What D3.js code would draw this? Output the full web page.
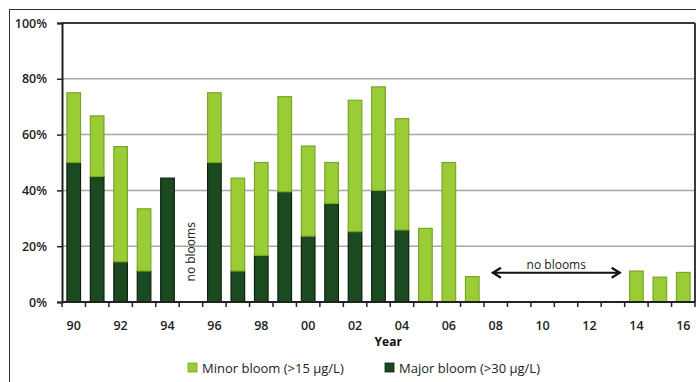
<!DOCTYPE html>
<html><head><meta charset="utf-8">
<script src="https://cdn.jsdelivr.net/npm/d3@7"></script>
<style>body{margin:0;background:#fff}svg{display:block;font-family:"Open Sans",sans-serif}</style>
</head><body><svg id="c" width="696" height="382"></svg>
<script>
const years = ["90","91","92","93","94","95","96","97","98","99","00","01","02","03","04","05","06","07","08","09","10","11","12","13","14","15","16"];
const major = [50,45,14.4,11.1,44.4,0,50,11.1,16.7,39.5,23.6,35.3,25.2,40,25.8,0,0,0,0,0,0,0,0,0,0,0,0];
const minor = [25,21.7,41.3,22.3,0,0,25,33.3,33.3,34.1,32.3,14.7,47.1,37.1,39.9,26.4,50,9.1,0,0,0,0,0,0,11.1,8.9,10.6];
const yTicks = [0,20,40,60,80,100];
const xLabels = ["90","92","94","96","98","00","02","04","06","08","10","12","14","16"];
const seriesNames = ["Minor bloom (>15 µg/L)","Major bloom (>30 µg/L)"];

const svg = d3.select("#c");
const L=62,R=695,T=23,B=302;
const x = d3.scaleBand().domain(years).range([L,R]).paddingInner(0.42).paddingOuter(0.21);
const y = d3.scaleLinear().domain([0,100]).range([B,T]);
const cLight="#9acc36", cLightS="#7aa52a", cDark="#1c4a20", cDarkS="#0d200e";

// outer frame
svg.append("rect").attr("x",9.5).attr("y",9.5).attr("width",700).attr("height",400).attr("fill","none").attr("stroke","#333").attr("stroke-width",1);

// gridlines
svg.append("g").selectAll("line").data(yTicks.filter(d=>d>0&&d<100)).join("line")
 .attr("x1",L).attr("x2",R).attr("y1",d=>y(d)).attr("y2",d=>y(d)).attr("stroke","#a8a8a8").attr("stroke-width",1.5);
// top & right border
svg.append("line").attr("x1",L).attr("x2",R).attr("y1",y(100)).attr("y2",y(100)).attr("stroke","#3a3a3a").attr("stroke-width",2);
svg.append("line").attr("x1",R).attr("x2",R).attr("y1",T).attr("y2",B).attr("stroke","#3a3a3a").attr("stroke-width",2);

// bars
const data = years.map((yr,i)=>({yr,major:major[i],minor:minor[i]}));
const g = svg.append("g");
g.selectAll("rect.maj").data(data.filter(d=>d.major>0)).join("rect").attr("class","maj")
 .attr("x",d=>x(d.yr)).attr("width",x.bandwidth()).attr("y",d=>y(d.major)).attr("height",d=>y(0)-y(d.major))
 .attr("fill",cDark).attr("stroke",cDarkS).attr("stroke-width",1.2);
g.selectAll("rect.min").data(data.filter(d=>d.minor>0)).join("rect").attr("class","min")
 .attr("x",d=>x(d.yr)).attr("width",x.bandwidth()).attr("y",d=>y(d.major+d.minor)).attr("height",d=>y(d.major)-y(d.major+d.minor))
 .attr("fill",cLight).attr("stroke",cLightS).attr("stroke-width",1.2);

// y axis
const yAxis = d3.axisLeft(y).tickValues(yTicks).tickFormat(d=>d+"%").tickSize(5).tickPadding(10);
const ya = svg.append("g").attr("transform",`translate(${L},0)`).call(yAxis);
ya.select(".domain").attr("stroke","#222").attr("stroke-width",2);
ya.selectAll(".tick line").attr("stroke","#222").attr("stroke-width",1.5);
ya.selectAll("text").attr("font-size",12.5).attr("font-weight",600).attr("fill","#222").attr("font-family","Open Sans");

// x axis
const gap = (x.step()-x.bandwidth())/2;
const bounds = years.map(d=>x(d)-gap).concat([x(years[years.length-1])+x.bandwidth()+gap]);
svg.append("g").selectAll("line").data(bounds).join("line")
 .attr("x1",d=>d).attr("x2",d=>d).attr("y1",B).attr("y2",B+5).attr("stroke","#222").attr("stroke-width",1.5);
svg.append("line").attr("x1",L).attr("x2",R).attr("y1",B).attr("y2",B).attr("stroke","#222").attr("stroke-width",2);
svg.append("g").selectAll("text").data(xLabels).join("text")
 .attr("x",d=>x(d)+x.bandwidth()/2).attr("y",B+28).attr("text-anchor","middle")
 .attr("font-size",12.5).attr("font-weight",600).attr("fill","#222").text(d=>d);
svg.append("text").attr("x",x("03")+x.bandwidth()+gap-2).attr("y",B+44).attr("text-anchor","middle")
 .attr("font-size",12).attr("font-weight",700).attr("fill","#111").text("Year");

// annotations
svg.append("text").attr("transform",`translate(${x("95")+x.bandwidth()/2+4},${y(18)}) rotate(-90)`)
 .attr("text-anchor","middle").attr("font-size",12).attr("fill","#222").text("no blooms");
const ax1 = x("08")+3, ax2 = x("13")+x.bandwidth()+gap-4, ay = y(10.5);
svg.append("line").attr("x1",ax1).attr("x2",ax2).attr("y1",ay).attr("y2",ay).attr("stroke","#111").attr("stroke-width",2);
svg.append("path").attr("d",`M${ax1+9},${ay-5}L${ax1+1},${ay}L${ax1+9},${ay+5}M${ax2-9},${ay-5}L${ax2-1},${ay}L${ax2-9},${ay+5}`)
 .attr("fill","none").attr("stroke","#111").attr("stroke-width",2.2);
svg.append("text").attr("x",(ax1+ax2)/2).attr("y",ay-4).attr("text-anchor","middle").attr("font-size",12).attr("fill","#222").text("no blooms");

// legend
const lg = svg.append("g");
const items=[{n:seriesNames[0],c:cLight,s:cLightS,x:188},{n:seriesNames[1],c:cDark,s:cDarkS,x:385}];
items.forEach(it=>{
 lg.append("rect").attr("x",it.x).attr("y",363).attr("width",9).attr("height",9).attr("fill",it.c).attr("stroke",it.s).attr("stroke-width",0.8);
 lg.append("text").attr("x",it.x+14).attr("y",372.5).attr("font-size",13).attr("fill","#222").text(it.n);
});
</script></body></html>
